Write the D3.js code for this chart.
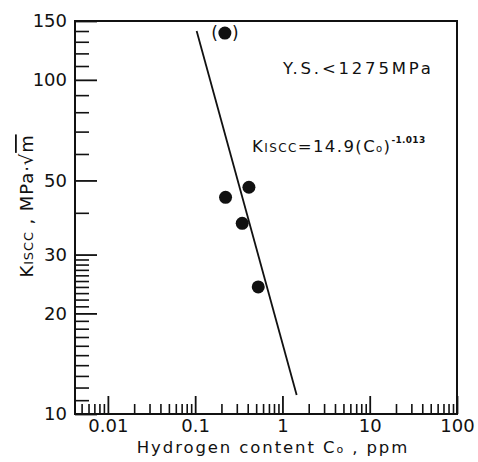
<!DOCTYPE html>
<html>
<head>
<meta charset="utf-8">
<script src="https://cdn.jsdelivr.net/npm/d3@7"></script>
<style>
  html, body { margin: 0; padding: 0; background: #fff; }
  svg { display: block; }
  text { font-family: "DejaVu Sans", sans-serif; fill: #111; }
</style>
</head>
<body>
<svg id="chart" width="478" height="462"></svg>
<script>
// ---- data ----
const hydrogenPpm = [0.219, 0.413, 0.223, 0.346, 0.528];
const kiscc       = [138, 47.7, 44.5, 37.2, 24.0];
const bracketed   = [true, false, false, false, false];
const fitC = [0.104, 1.455];
const fitK = [140, 11.4];

const xTickValues = [0.01, 0.1, 1, 10, 100];
const xTickLabels = ["0.01", "0.1", "1", "10", "100"];
const yTickValues = [10, 20, 30, 50, 100, 150];
const yTickLabels = ["10", "20", "30", "50", "100", "150"];
const yMinorValues = [11,12,13,14,15,16,17,18,19,21,22,23,24,25,26,27,28,29,40,60,70,80,90,110,120,130,140];

const xDomain = [0.0042, 100];
const yDomain = [10, 150];

// ---- layout ----
const L = 75, R = 457, T = 21, B = 414;
const svg = d3.select("#chart");
const x = d3.scaleLog().domain(xDomain).range([L, R]);
const y = d3.scaleLog().domain(yDomain).range([B, T]);

const ink = "#111";

// x minor ticks
const xMinor = x.ticks().filter(v => !xTickValues.some(t => Math.abs(t - v) / t < 1e-6) && v > xDomain[0]);
const gxMinor = svg.append("g").attr("transform", `translate(0,${B})`)
  .call(d3.axisBottom(x).tickValues(xMinor).tickSize(-10).tickSizeOuter(0).tickFormat(""));
gxMinor.select(".domain").remove();
gxMinor.selectAll("line").attr("stroke", ink).attr("stroke-width", 1.6);

const gx = svg.append("g").attr("transform", `translate(0,${B})`)
  .call(d3.axisBottom(x).tickValues(xTickValues).tickSize(-18).tickSizeOuter(0).tickPadding(5)
    .tickFormat((d, i) => xTickLabels[i]));
gx.select(".domain").remove();
gx.selectAll("line").attr("stroke", ink).attr("stroke-width", 1.8);
gx.selectAll("text").attr("font-size", 18).attr("fill", ink).style("font-family", "DejaVu Sans");

// y minor ticks
const gyMinor = svg.append("g").attr("transform", `translate(${L},0)`)
  .call(d3.axisLeft(y).tickValues(yMinorValues).tickSize(-14).tickSizeOuter(0).tickFormat(""));
gyMinor.select(".domain").remove();
gyMinor.selectAll("line").attr("stroke", ink).attr("stroke-width", 1.6);

const gy = svg.append("g").attr("transform", `translate(${L},0)`)
  .call(d3.axisLeft(y).tickValues(yTickValues).tickSize(-22).tickSizeOuter(0).tickPadding(8)
    .tickFormat((d, i) => yTickLabels[i]));
gy.select(".domain").remove();
gy.selectAll("line").attr("stroke", ink).attr("stroke-width", 1.8);
gy.selectAll("text").attr("font-size", 18).attr("fill", ink).style("font-family", "DejaVu Sans");

// frame
svg.append("rect")
  .attr("x", x(xDomain[0])).attr("y", y(yDomain[1]))
  .attr("width", x(xDomain[1]) - x(xDomain[0]))
  .attr("height", y(yDomain[0]) - y(yDomain[1]))
  .attr("fill", "none").attr("stroke", ink).attr("stroke-width", 2);

// fit line
svg.append("line")
  .attr("x1", x(fitC[0])).attr("y1", y(fitK[0]))
  .attr("x2", x(fitC[1])).attr("y2", y(fitK[1]))
  .attr("stroke", ink).attr("stroke-width", 1.8);

// points
const pts = hydrogenPpm.map((c, i) => ({ c, k: kiscc[i], b: bracketed[i] }));
svg.selectAll("circle.pt").data(pts).join("circle")
  .attr("class", "pt")
  .attr("cx", d => x(d.c)).attr("cy", d => y(d.k)).attr("r", 6.5)
  .attr("fill", ink);
pts.filter(d => d.b).forEach(d => {
  svg.append("text").attr("x", x(d.c) - 7).attr("y", y(d.k) + 6)
    .attr("text-anchor", "end").attr("font-size", 17).text("(");
  svg.append("text").attr("x", x(d.c) + 7).attr("y", y(d.k) + 6)
    .attr("text-anchor", "start").attr("font-size", 17).text(")");
});

// annotations
svg.append("text").attr("x", 283).attr("y", 74)
  .attr("font-size", 16.5).attr("letter-spacing", 2.8).text("Y.S.<1275MPa");

const eq = svg.append("text").attr("x", 252).attr("y", 152).attr("font-size", 16.5).attr("letter-spacing", 1.4);
eq.append("tspan").text("K");
eq.append("tspan").attr("font-size", 12).text("ISCC");
eq.append("tspan").text("=14.9(C");
eq.append("tspan").attr("font-size", 10).text("o");
eq.append("tspan").text(")");
eq.append("tspan").attr("font-size", 9).attr("font-weight", "bold").attr("dy", -9).attr("letter-spacing", 0.3).text("-1.013");

// axis titles
const xt = svg.append("text").attr("x", 273).attr("y", 453).attr("text-anchor", "middle")
  .attr("font-size", 16.5).attr("letter-spacing", 1.9);
xt.append("tspan").text("Hydrogen content C");
xt.append("tspan").attr("font-size", 11).text("o");
xt.append("tspan").text(" , ppm");

const yt = svg.append("text").attr("transform", "translate(33,206) rotate(-90)")
  .attr("text-anchor", "middle").attr("font-size", 18).attr("letter-spacing", 0.9);
yt.append("tspan").text("K");
yt.append("tspan").attr("font-size", 13).text("ISCC");
yt.append("tspan").text(" , MPa·√");
yt.append("tspan").style("text-decoration", "overline").text("m");
</script>
</body>
</html>
